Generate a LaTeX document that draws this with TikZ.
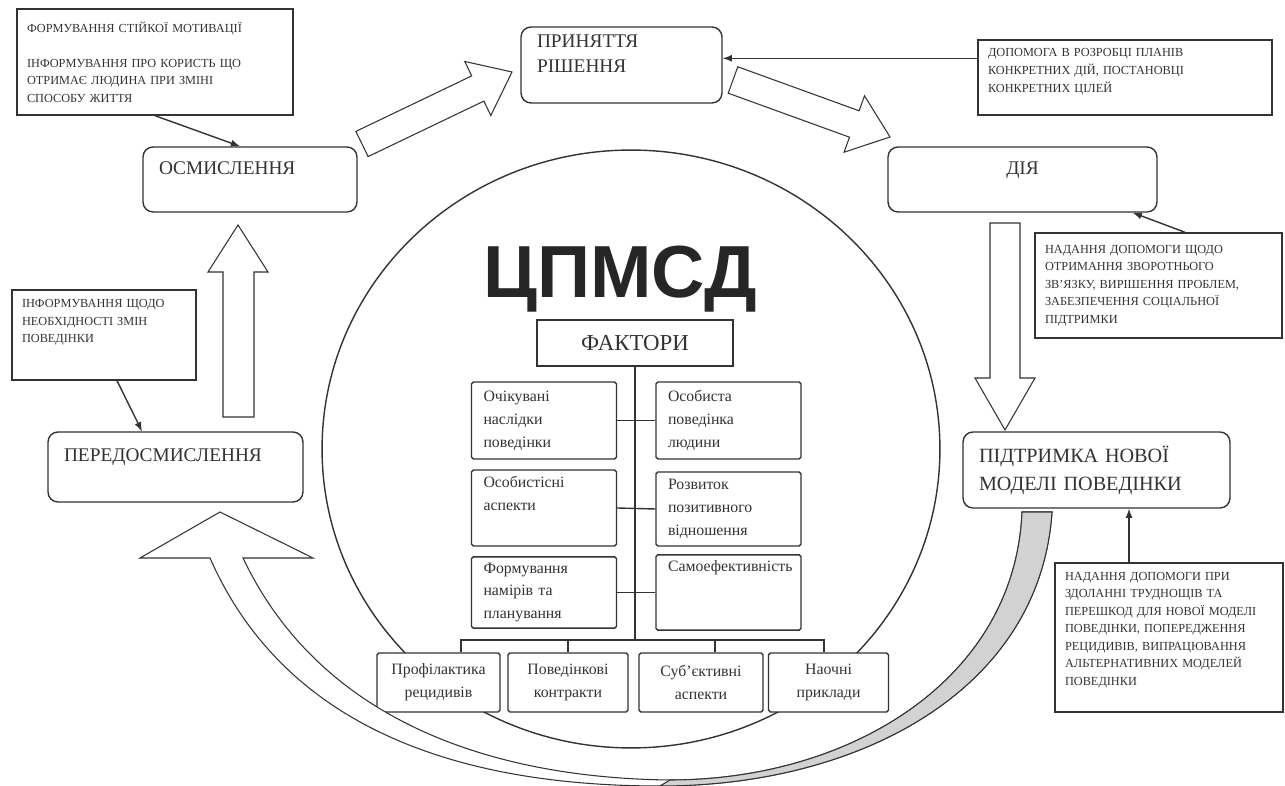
\documentclass[tikz,border=0pt]{standalone}
\usepackage{fontspec}
\setmainfont{Liberation Serif}
\newfontfamily\cpfont{Liberation Sans}
\usepackage{tikz}
\hyphenpenalty=10000
\newcommand{\pushup}[1][-5pt]{\\[#1]\strut}

\begin{document}
\begin{tikzpicture}[x=0.02cm, y=-0.02cm, thick, >=latex, color=black!80,
        stage/.style = {draw, fill=white, rounded corners=0.2cm, align=left, inner xsep=0.32cm, font=\fontsize{11}{14}\selectfont},
        note/.style = {draw, fill=white, align=left, inner xsep=0.2cm, font=\fontsize{7}{10}\selectfont},
        factor/.style = {draw, fill=white, rounded corners=1pt, align=left, inner xsep=0.24cm, text width=2.42cm, font=\fontsize{9}{13}\selectfont},
        tool/.style = {draw, fill=white, rounded corners=1pt, align=center, inner xsep=0.1cm, text width=2.2cm, minimum height=1.18cm, font=\fontsize{9}{13}\selectfont},
        block/.style = {draw, fill=white, line width=0.6pt, line join=miter}]

        \useasboundingbox (0,0) rectangle (1285,786);

        \draw (631,449) ellipse [x radius=6.18cm, y radius=5.98cm];

        \node[font=\cpfont\bfseries\fontsize{42}{42}\selectfont, text=black!85] (cp) at (620,279) {ЦПМСД};
        \node[draw, fill=white, minimum width=3.92cm, minimum height=0.92cm, font=\fontsize{13}{15}\selectfont] (fak) at (635,343) {ФАКТОРИ};

        \node[factor, minimum height=1.54cm] (f1) at (544,420.5) {Очікувані\\наслідки\\поведінки};
        \node[factor, minimum height=1.52cm] (f2) at (544,508) {Особистісні\\аспекти\\\strut};
        \node[factor, minimum height=1.42cm] (f3) at (544,592.5) {Формування\\намірів та\\планування};
        \node[factor, minimum height=1.54cm] (f4) at (728.5,420.5) {Особиста\\поведінка\\людини};
        \node[factor, minimum height=1.48cm] (f5) at (728.5,509) {Розвиток\\позитивного\\відношення};
        \node[factor, minimum height=1.42cm] (f6) at (728.5,592.5) {Самоефективність\\\strut\\\strut};

        \node[tool, minimum width=2.46cm] (b1) at (438.5,682.5) {Профілактика\\рецидивів};
        \node[tool, minimum width=2.4cm] (b2) at (568,682.5) {Поведінкові\\контракти};
        \node[tool, minimum width=2.48cm] (b3) at (701,682.5) {Суб’єктивні\\аспекти};
        \node[tool, minimum width=2.38cm] (b4) at (828.5,682.5) {Наочні\\приклади};

        \coordinate (bus) at (635,640);
        \draw (fak.south) -- (bus);
        \draw (f1.east) -- (f4.west);
        \draw (f2.east) -- (f5.west);
        \draw (f3.east) -- (f6.west);
        \draw ([xshift=0.45cm]b1.north) |- (bus) -| ([xshift=-0.09cm]b4.north);
        \draw (b2.north) -- (b2.north |- bus);
        \draw ([xshift=0.28cm]b3.north) -- ([xshift=0.28cm]b3.north |- bus);

        \node[stage, text width=3.64cm, minimum height=1.3cm] (osm) at (250,179.5) {ОСМИСЛЕННЯ\pushup};
        \node[stage, text width=4.46cm, minimum height=1.4cm] (pered) at (175.5,467) {ПЕРЕДОСМИСЛЕННЯ\pushup};
        \node[stage, text width=3.38cm, minimum height=1.52cm] (prin) at (621.5,65) {ПРИНЯТТЯ\\РІШЕННЯ\pushup};
        \node[stage, align=center, text width=4.74cm, minimum height=1.3cm] (diya) at (1022.5,179.5) {ДІЯ\pushup};
        \node[stage, text width=4.7cm, minimum height=1.52cm, font=\fontsize{11.5}{16}\selectfont] (pidt) at (1096.5,470) {ПІДТРИМКА НОВОЇ\\МОДЕЛІ ПОВЕДІНКИ};

        \node[note, text width=5.12cm, minimum height=2.12cm] (n1) at (155,62) {ФОРМУВАННЯ СТІЙКОЇ МОТИВАЦІЇ\\[10pt]ІНФОРМУВАННЯ ПРО КОРИСТЬ ЩО\\ОТРИМАЄ ЛЮДИНА ПРИ ЗМІНІ\\СПОСОБУ ЖИТТЯ};
        \node[note, text width=5.48cm, minimum height=1.5cm] (n2) at (1125,77.5) {ДОПОМОГА В РОЗРОБЦІ ПЛАНІВ\\КОНКРЕТНИХ ДІЙ, ПОСТАНОВЦІ\\КОНКРЕТНИХ ЦІЛЕЙ\pushup};
        \node[note, text width=4.54cm, minimum height=2.1cm] (n3) at (1158.5,285.5) {НАДАННЯ ДОПОМОГИ ЩОДО\\ОТРИМАННЯ ЗВОРОТНЬОГО\\ЗВ’ЯЗКУ, ВИРІШЕННЯ ПРОБЛЕМ,\\ЗАБЕЗПЕЧЕННЯ СОЦІАЛЬНОЇ\\ПІДТРИМКИ};
        \node[note, text width=3.28cm, minimum height=1.8cm] (n4) at (104,335) {ІНФОРМУВАННЯ ЩОДО\\НЕОБХІДНОСТІ ЗМІН\\ПОВЕДІНКИ\pushup[3pt]};
        \node[note, text width=4.16cm, minimum height=2.98cm] (n5) at (1169,637.5) {НАДАННЯ ДОПОМОГИ ПРИ\\ЗДОЛАННІ ТРУДНОЩІВ ТА\\ПЕРЕШКОД ДЛЯ НОВОЇ МОДЕЛІ\\ПОВЕДІНКИ, ПОПЕРЕДЖЕННЯ\\РЕЦИДИВІВ, ВИПРАЦЮВАННЯ\\АЛЬТЕРНАТИВНИХ МОДЕЛЕЙ\\ПОВЕДІНКИ\pushup[-3pt]};

        \draw[block] (368.1,156.6) -- (483.9,101.1) -- (490.8,115.5) -- (512,72) -- (464.8,61.5) -- (471.7,75.9) -- (355.9,131.4) -- cycle;
        \draw[block] (737.8,66.8) -- (859.1,110.8) -- (864.5,95.8) -- (890,137) -- (844.1,152.2) -- (849.5,137.2) -- (728.2,93.2) -- cycle;
        \draw[block] (223,417) -- (223,272) -- (208,272) -- (238,225) -- (268,272) -- (254,272) -- (254,417) -- cycle;
        \draw[block] (990,223) -- (990,378) -- (975,378) -- (1005,430) -- (1035,378) -- (1020,378) -- (1020,223) -- cycle;

        \draw[block] (243,558) .. controls (320,720) and (490,778) .. (670,780) .. controls (850,780) and (1015,680) .. (1022,512) -- (1052,512) .. controls (1040,690) and (860,786) .. (660,786) .. controls (480,786) and (290,740) .. (210,558) -- (140,558) -- (220,512) -- (313,558) -- cycle;
        \filldraw[block, fill=gray!35] (670,780) .. controls (850,780) and (1015,680) .. (1022,512) -- (1052,512) .. controls (1040,690) and (860,786) .. (660,786) -- cycle;

        \draw[->] (n1.south) -- ([xshift=-0.2cm]osm.north);
        \draw[->] ([xshift=0.26cm]n4.south) -- ([xshift=-0.67cm]pered.north);
        \draw[->] ([yshift=-0.38cm]n2.north west) coordinate (n2out) -- (n2out -| prin.east);
        \draw[->] ([xshift=0.53cm]n3.north) -- ([xshift=-0.5cm]diya.south east);
        \draw[->] ([xshift=-0.8cm]n5.north) coordinate (n5out) -- (n5out |- pidt.south);

    \end{tikzpicture}
\end{document}
